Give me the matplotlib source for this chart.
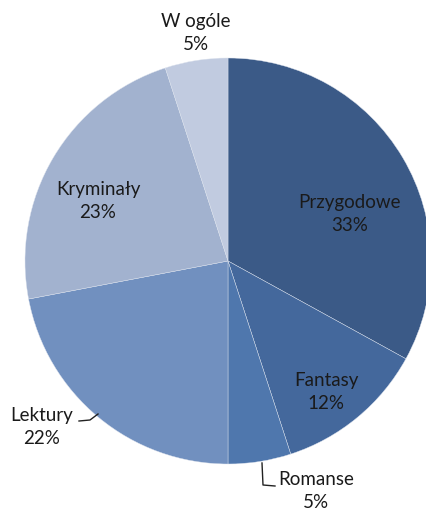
import numpy as np
import matplotlib
matplotlib.use('Agg')
import matplotlib.pyplot as plt

# Dane wykresu
kategorie = ['Przygodowe', 'Fantasy', 'Romanse', 'Lektury', 'Kryminały', 'W ogóle']
procenty = [33, 12, 5, 22, 23, 5]
kolory = ['#3b5a87', '#44689c', '#4f77ad', '#7190bf', '#a2b2cf', '#c1cbe0']

plt.rcParams['font.family'] = ['Lato', 'DejaVu Sans']

W, H = 426, 511
cx, cy, R = 228, 261, 203

fig = plt.figure(figsize=(W / 100, H / 100), dpi=100)
ax = fig.add_axes([0, 0, 1, 1])
ax.pie(procenty, colors=kolory, startangle=90, counterclock=False,
       radius=1, center=(0, 0),
       wedgeprops=dict(edgecolor='#dde3ee', linewidth=0.3))
ax.set_xlim(-cx / R, (W - cx) / R)
ax.set_ylim((cy - H) / R, cy / R)
ax.set_aspect('equal')
ax.axis('off')

# pozycje etykiet w pikselach (x, y)
pozycje = [(350, 214), (326, 392), (316, 491), (42, 427), (98, 201), (196, 33)]

def px(x, y):
    return (x - cx) / R, (cy - y) / R

for nazwa, p, (x, y) in zip(kategorie, procenty, pozycje):
    tx, ty = px(x, y)
    ax.text(tx, ty, f'{nazwa}\n{p}%', ha='center', va='center',
            fontsize=13.5, color='#1a1a1a', linespacing=1.45)

# linie odniesienia
lx, ly = zip(px(79, 421), px(90, 420), px(98, 414))
ax.plot(lx, ly, color='#222222', lw=1)
rx, ry = zip(px(262, 463), px(263, 485), px(275, 486))
ax.plot(rx, ry, color='#222222', lw=1)

fig.savefig('out.png', dpi=100)
